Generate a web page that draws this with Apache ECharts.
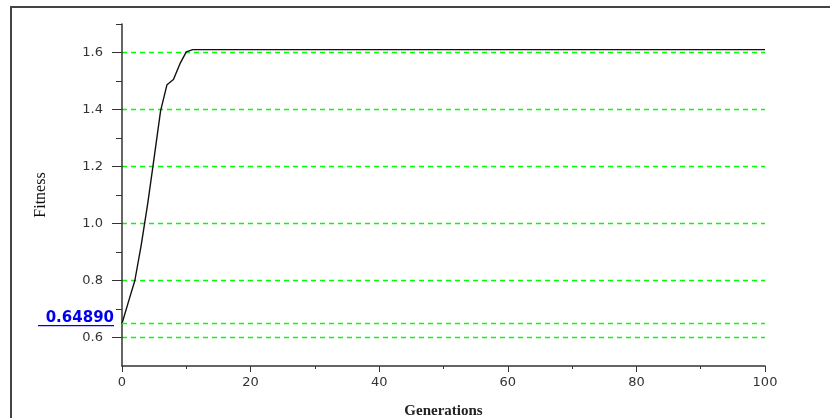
<!DOCTYPE html>
<html><head><meta charset="utf-8">
<script src="https://cdn.jsdelivr.net/npm/echarts@6/dist/echarts.min.js"></script>
<style>html,body{margin:0;padding:0;background:#fff;}#c{width:830px;height:418px;}</style>
</head><body><div id="c"></div>
<script>
const generations = [0, 1, 2, 3, 4, 5, 6, 7, 8, 9, 10, 11, 100];
const fitness = [0.649, 0.725, 0.80, 0.926, 1.07, 1.231, 1.395, 1.487, 1.505, 1.56, 1.602, 1.61, 1.61];
const yMajorTicks = [0.6, 0.8, 1.0, 1.2, 1.4, 1.6];
const yMinorTicks = [0.7, 0.9, 1.1, 1.3, 1.5, 1.7];
const startValue = 0.6489;
const startLabel = '0.64890';

const chart = echarts.init(document.getElementById('c'), null, {renderer: 'canvas'});
const axisColor = '#333';
const green = '#00ff00';
const gridDef = {left: 122, right: 65, top: 24, bottom: 52, outerBoundsMode: 'none', containLabel: false};
const gridLines = {left: 122, right: 65, top: -4.5, bottom: 23.5, outerBoundsMode: 'none', containLabel: false};
const option = {
  animation: false,
  grid: [Object.assign({}, gridDef), Object.assign({}, gridDef), gridLines],
  xAxis: [{
    type: 'value', gridIndex: 0, min: 0, max: 100, interval: 20,
    axisLine: {lineStyle: {color: axisColor, width: 1.5}},
    axisTick: {length: 6, lineStyle: {color: axisColor}},
    minorTick: {show: true, splitNumber: 2, length: 3, lineStyle: {color: axisColor}},
    splitLine: {show: false},
    axisLabel: {color: '#333', fontSize: 13, margin: 10, fontFamily: 'DejaVu Sans'},
    name: 'Generations', nameLocation: 'middle', nameGap: 38,
    nameTextStyle: {fontFamily: 'Liberation Serif', fontWeight: 'bold', fontSize: 15, color: '#222'}
  }, {
    type: 'value', gridIndex: 1, min: 0, max: 100, show: false
  }, {
    type: 'value', gridIndex: 2, min: 0, max: 100, show: false
  }],
  yAxis: [{
    type: 'value', gridIndex: 0, min: 0.5, max: 1.7,
    axisLine: {show: true, lineStyle: {color: axisColor, width: 1.5}},
    axisTick: {show: true, customValues: yMajorTicks, length: 10, lineStyle: {color: axisColor}},
    axisLabel: {customValues: yMajorTicks, formatter: v => v.toFixed(1), margin: 19,
      color: '#333', fontSize: 13, fontFamily: 'DejaVu Sans'},
    splitLine: {show: false},
    name: 'Fitness', nameLocation: 'middle', nameGap: 73, nameRotate: 90,
    nameTextStyle: {fontFamily: 'Liberation Serif', fontSize: 16, color: '#111'}
  }, {
    type: 'value', gridIndex: 1, min: 0.5, max: 1.7,
    axisLine: {show: false},
    axisTick: {show: true, customValues: yMinorTicks, length: 6, lineStyle: {color: axisColor}},
    axisLabel: {show: false},
    splitLine: {show: false}
  }, {
    type: 'value', gridIndex: 2, min: 0.4, max: 1.8, interval: 0.2,
    axisLine: {show: false}, axisTick: {show: false}, axisLabel: {show: false},
    splitLine: {show: true, showMinLine: false, showMaxLine: false,
      lineStyle: {color: green, type: [5, 4], width: 1.3}}
  }],
  series: [{
    type: 'line', xAxisIndex: 0, yAxisIndex: 0,
    data: generations.map((g, i) => [g, fitness[i]]),
    showSymbol: false, symbol: 'none',
    lineStyle: {color: '#111', width: 1.4},
    markLine: {
      silent: true, symbol: 'none', label: {show: false},
      emphasis: {disabled: true},
      lineStyle: {color: green, type: [5, 4], width: 1.3, opacity: 1},
      data: [{yAxis: startValue}]
    },
    z: 3
  }]
};
chart.setOption(option);

const p = chart.convertToPixel({xAxisIndex: 0, yAxisIndex: 0}, [0, startValue]);
const tx = p[0] - 8, ty = p[1] - 5;
chart.setOption({
  graphic: [{
    type: 'rect', shape: {x: 11, y: 7, width: 900, height: 500},
    style: {fill: 'none', stroke: '#444', lineWidth: 2}, silent: true
  }, {
    type: 'text', x: tx, y: ty,
    style: {text: startLabel, fill: '#0000ee', font: 'bold 15px "DejaVu Sans"', textAlign: 'right', textVerticalAlign: 'middle'}
  }, {
    type: 'line', shape: {x1: tx - 76, y1: ty + 7, x2: tx, y2: ty + 7},
    style: {stroke: '#0000ee', lineWidth: 1.2}
  }]
});
</script></body></html>
